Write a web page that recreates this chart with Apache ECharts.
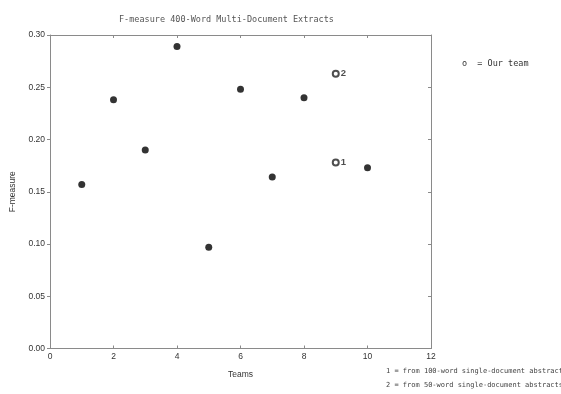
<!DOCTYPE html>
<html><head><meta charset="utf-8">
<script src="https://cdn.jsdelivr.net/npm/echarts@6/dist/echarts.min.js"></script>
<style>html,body{margin:0;padding:0;background:#fff}#c{width:561px;height:394px}</style>
</head><body><div id="c"></div>
<script>
const teams = [1, 2, 3, 4, 5, 6, 7, 8, 10];
const fMeasure = [0.157, 0.238, 0.190, 0.289, 0.097, 0.248, 0.164, 0.240, 0.173];
const ourTeam = [9, 9];
const ourValues = [0.178, 0.263];
const ourLabels = ['1', '2'];
const xTicks = [0, 2, 4, 6, 8, 10, 12];
const yTicks = [0.00, 0.05, 0.10, 0.15, 0.20, 0.25, 0.30];
const titleText = 'F-measure 400-Word Multi-Document Extracts';
const legendOur = 'o  = Our team';
const notes = ['1 = from 100-word single-document abstracts', '2 = from 50-word single-document abstracts'];

const chart = echarts.init(document.getElementById('c'));
const axisCol = '#8a8a8a';
const labelCol = '#333';
const baseX = {
  type: 'value', min: xTicks[0], max: xTicks[xTicks.length - 1], interval: xTicks[1] - xTicks[0],
  axisLine: { show: true, onZero: false, lineStyle: { color: axisCol, width: 1 } },
  axisTick: { inside: true, length: 3, lineStyle: { color: axisCol } },
  splitLine: { show: false }
};
const baseY = {
  type: 'value', min: yTicks[0], max: yTicks[yTicks.length - 1], interval: yTicks[1] - yTicks[0],
  axisLine: { show: true, onZero: false, lineStyle: { color: axisCol, width: 1 } },
  splitLine: { show: false }
};
chart.setOption({
  animation: false,
  backgroundColor: '#fff',
  title: {
    text: titleText, left: 114, top: 10,
    textStyle: { fontFamily: 'DejaVu Sans Mono', fontSize: 8.5, fontWeight: 'normal', color: '#555' }
  },
  grid: { left: 46, right: 130, top: 35, bottom: 45.5 },
  xAxis: [
    Object.assign({}, baseX, {
      position: 'bottom',
      axisLabel: { color: labelCol, fontFamily: 'Liberation Sans', fontSize: 8.5, margin: 4 },
      name: 'Teams', nameLocation: 'middle', nameGap: 22,
      nameTextStyle: { color: labelCol, fontFamily: 'Liberation Sans', fontSize: 8.5 }
    }),
    Object.assign({}, baseX, { position: 'top', axisLabel: { show: false } })
  ],
  yAxis: [
    Object.assign({}, baseY, {
      position: 'left',
      axisTick: { inside: false, length: 3, lineStyle: { color: axisCol } },
      axisLabel: { color: labelCol, fontFamily: 'Liberation Sans', fontSize: 8.5, margin: 5,
        formatter: v => v.toFixed(2) },
      name: 'F-measure', nameLocation: 'middle', nameGap: 33,
      nameTextStyle: { color: labelCol, fontFamily: 'Liberation Sans', fontSize: 8.5 }
    }),
    Object.assign({}, baseY, { position: 'right',
      axisTick: { inside: true, length: 3, lineStyle: { color: axisCol } },
      axisLabel: { show: false } })
  ],
  series: [
    {
      type: 'scatter', xAxisIndex: 0, yAxisIndex: 0,
      data: teams.map((t, i) => [t, fMeasure[i]]),
      symbol: 'circle', symbolSize: 7,
      itemStyle: { color: '#000' }
    },
    {
      type: 'scatter', xAxisIndex: 0, yAxisIndex: 0,
      data: ourTeam.map((t, i) => ({ value: [t, ourValues[i]], label: { formatter: ourLabels[i] } })),
      symbol: 'emptyCircle', symbolSize: 6,
      itemStyle: { color: '#222', borderColor: '#222', borderWidth: 1.3 },
      label: { show: true, position: 'right', distance: 1, color: '#222', fontFamily: 'Liberation Sans',
        fontSize: 9.5, fontWeight: 'bold' }
    }
  ],
  graphic: [
    { type: 'text', left: 462, top: 59,
      style: { text: legendOur, fontFamily: 'DejaVu Sans Mono', fontSize: 8.5, fill: '#333' } },
    { type: 'text', left: 386, top: 368,
      style: { text: notes[0], fontFamily: 'DejaVu Sans Mono', fontSize: 7, fill: '#444' } },
    { type: 'text', left: 386, top: 382,
      style: { text: notes[1], fontFamily: 'DejaVu Sans Mono', fontSize: 7, fill: '#444' } }
  ]
});
</script></body></html>
